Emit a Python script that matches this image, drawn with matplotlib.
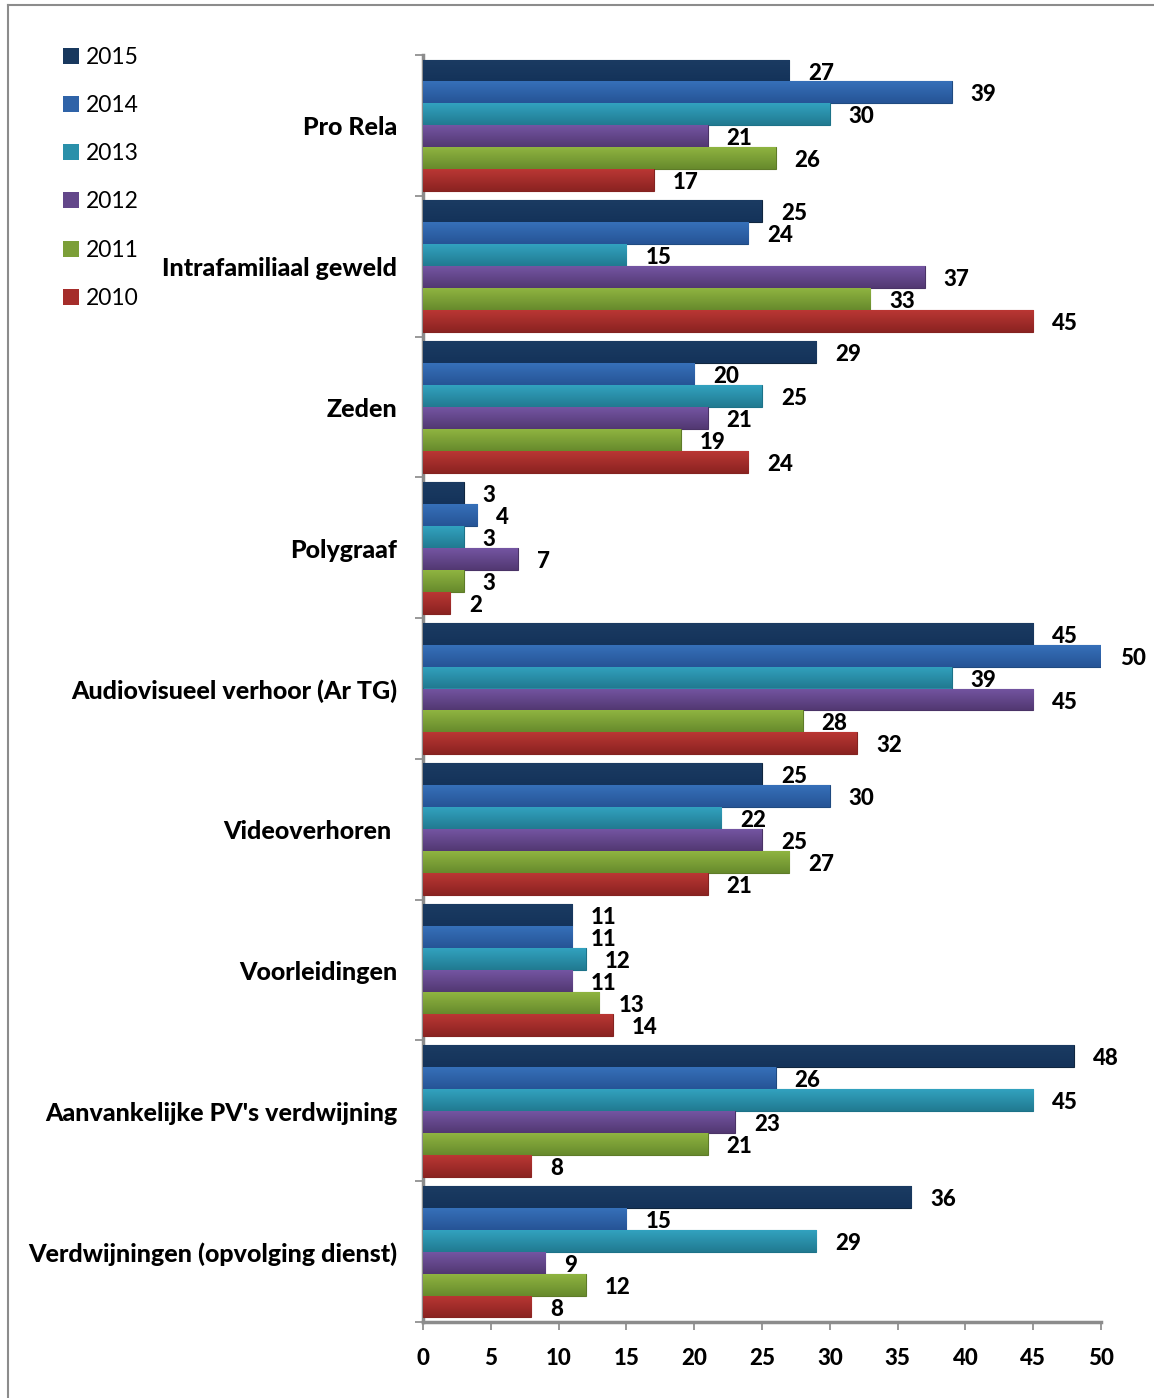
import matplotlib
matplotlib.use("Agg")
import matplotlib.pyplot as plt
from matplotlib.patches import Patch
from matplotlib.lines import Line2D
from matplotlib.colors import LinearSegmentedColormap
import numpy as np

plt.rcParams['font.family'] = ['Lato', 'DejaVu Sans']

categories = ["Pro Rela", "Intrafamiliaal geweld", "Zeden", "Polygraaf",
              "Audiovisueel verhoor (Ar TG)", "Videoverhoren ", "Voorleidingen",
              "Aanvankelijke PV's verdwijning", "Verdwijningen (opvolging dienst)"]
years = ["2015", "2014", "2013", "2012", "2011", "2010"]
v2015 = [27, 25, 29, 3, 45, 25, 11, 48, 36]
v2014 = [39, 24, 20, 4, 50, 30, 11, 26, 15]
v2013 = [30, 15, 25, 3, 39, 22, 12, 45, 29]
v2012 = [21, 37, 21, 7, 45, 25, 11, 23, 9]
v2011 = [26, 33, 19, 3, 28, 27, 13, 21, 12]
v2010 = [17, 45, 24, 2, 32, 21, 14, 8, 8]
series = [v2015, v2014, v2013, v2012, v2011, v2010]
colors = ["#18385E", "#2F63A8", "#2A90AA", "#63478A", "#7C9F38", "#A52D2B"]
tops = ["#1B3B62", "#3670B9", "#32A2BF", "#7455A2", "#8FB441", "#BA3734"]
bottoms = ["#14335A", "#265496", "#217A91", "#523872", "#678A2C", "#8B2321"]
edges = ["#10263F", "#1F4A80", "#1C7288", "#4A3366", "#5E7B28", "#842320"]

W, H = 1154, 1398
fig = plt.figure(figsize=(W / 100, H / 100), dpi=100)
ax = fig.add_axes([423 / W, 1 - 1322 / H, (1101 - 423) / W, (1322 - 55) / H])

n = len(categories)
h = 0.156
ypos = np.arange(n)
grad = np.linspace(0, 1, 64).reshape(-1, 1)
for k, (vals, c, t, b, ec) in enumerate(zip(series, colors, tops, bottoms, edges)):
    y = ypos - 3 * h + h / 2 + k * h
    bars = ax.barh(y, vals, height=h, color=c, edgecolor=ec, linewidth=0.8, zorder=3)
    cmap = LinearSegmentedColormap.from_list("g%d" % k, [t, b])
    for bar, yy, v in zip(bars, y, vals):
        im = ax.imshow(grad, cmap=cmap, aspect='auto', interpolation='bilinear',
                       extent=[0, v, yy + h / 2, yy - h / 2], zorder=3.5)
        im.set_clip_path(bar)
        ax.text(v + 1.4, yy + 0.018, str(v), ha='left', va='center',
                fontsize=16, fontweight='black', color='black', zorder=4)

ax.set_xlim(0, 50)
ax.set_ylim(n - 0.5, -0.5)
ax.set_xticks(np.arange(0, 51, 5))
ax.set_xticklabels([str(t) for t in range(0, 51, 5)], fontsize=16, fontweight='black')
ax.set_yticks(np.arange(-0.5, n, 1))
ax.set_yticklabels([])
ax.tick_params(axis='y', length=6, color='#888888', width=1.2, direction='out')
ax.tick_params(axis='x', length=6, color='#888888', width=1.2, direction='out', pad=13)
for i, cat in enumerate(categories):
    ax.text(-1.9, i + 0.018, cat, ha='right', va='center', fontsize=18, fontweight='black',
            transform=ax.transData)
for s in ['top', 'right']:
    ax.spines[s].set_visible(False)
ax.spines['left'].set_color('#8C8C8C')
ax.spines['left'].set_linewidth(2.5)
ax.spines['bottom'].set_color('#8C8C8C')
ax.spines['bottom'].set_linewidth(2.5)

# frame lines (left and top)
fig.add_artist(Line2D([8 / W, 8 / W], [0, 1 - 5 / H], color='#8C8C8C', linewidth=1.5))
fig.add_artist(Line2D([8 / W, 1], [1 - 5 / H, 1 - 5 / H], color='#8C8C8C', linewidth=1.5))

handles = [Patch(facecolor=c, edgecolor='none', label=y) for c, y in zip(colors, years)]
fig.legend(handles=handles, loc='upper left', bbox_to_anchor=(42 / W, 1 - 26 / H),
           frameon=False, fontsize=16.5, handlelength=0.7, handleheight=0.7,
           handletextpad=0.3, labelspacing=1.19)

fig.savefig("out.png", dpi=100)
